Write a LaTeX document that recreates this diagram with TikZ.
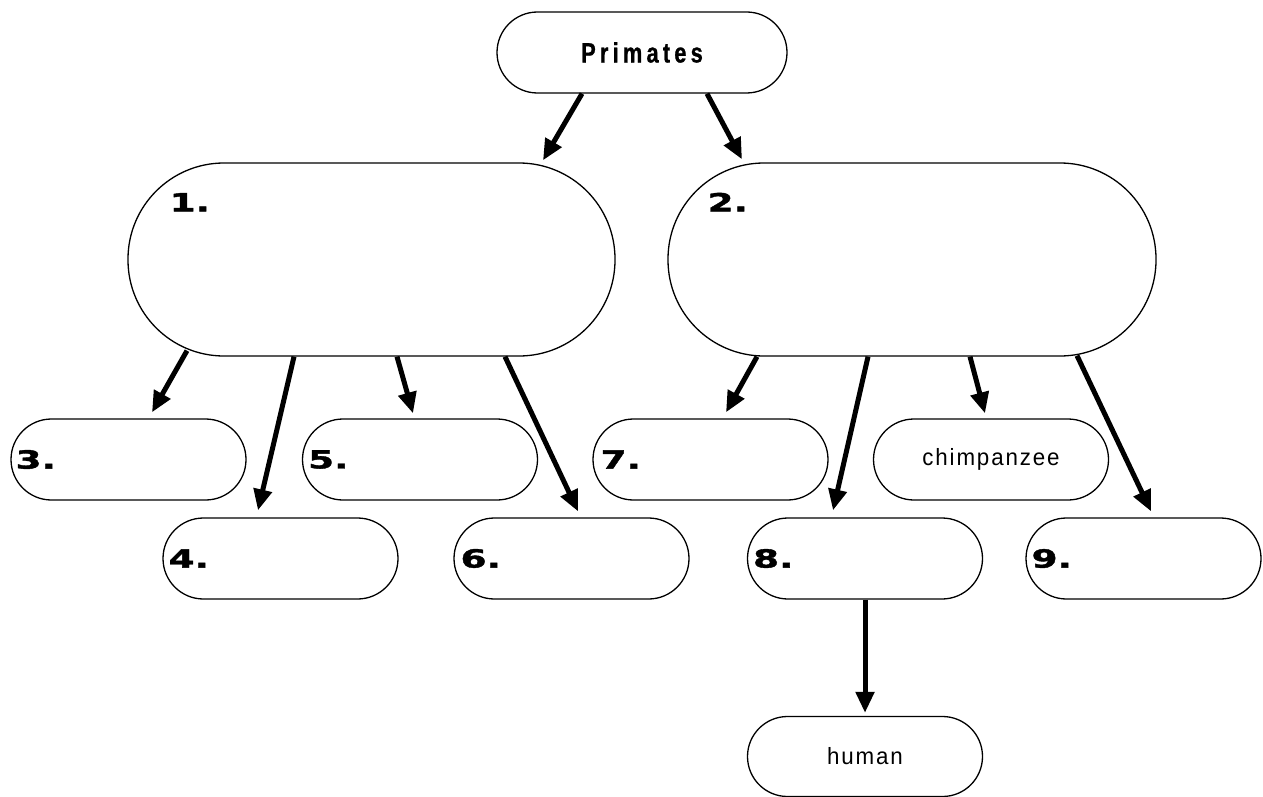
\documentclass[tikz,border=0pt]{standalone}
\usepackage{fontspec}
\setmainfont{Liberation Sans}
\newfontfamily\numfont{DejaVu Sans}[FakeStretch=1.5,FakeBold=1.5]
\newfontfamily\primfont{Liberation Sans}[FakeStretch=0.78,LetterSpace=15,FakeBold=0.8]
\newfontfamily\namefont{Liberation Sans}[LetterSpace=8,FakeStretch=0.95]
\usetikzlibrary{arrows.meta}
\tikzset{
  box/.style={draw, line width=1.3pt, rounded corners=40.5pt, minimum width=235pt, minimum height=81pt, inner sep=0pt},
  bigbox/.style={draw, line width=1.3pt, rounded corners=96pt, minimum width=487pt, minimum height=193pt, inner sep=0pt},
  num/.style={font=\numfont\bfseries\fontsize{25}{28}\selectfont, inner sep=0pt},
  animal/.style={font=\namefont\fontsize{23.5}{26}\selectfont},
  arr/.style={line width=5pt, -{Triangle[length=21pt,width=18pt]}}
}
\begin{document}
\begin{tikzpicture}[x=1pt,y=-1pt]
\useasboundingbox (0,0) rectangle (1263,797);
% boxes
\node[box, minimum width=290pt, font=\primfont\bfseries\fontsize{28}{30}\selectfont] (prim) at (642,52.5) {Primates};
\node[bigbox] (b1) at (371.5,259.5) {};
\node[bigbox, minimum width=488pt] (b2) at (912,259.5) {};
\node[box] (c3) at (128.5,459.5) {};
\node[box] (c4) at (280.5,558.5) {};
\node[box] (c5) at (420,459.5) {};
\node[box] (c6) at (571.5,558.5) {};
\node[box] (c7) at (710.5,459.5) {};
\node[box, animal] (chimp) at (991,459.5) {chimpanzee};
\node[box] (c8) at (865,558.5) {};
\node[box] (c9) at (1143.5,558.5) {};
\node[box, minimum height=80pt, rounded corners=40pt, animal] (human) at (865,756.5) {human};
% labels
\node[num, anchor=base west] (l1) at ([xshift=42pt,yshift=-49pt]b1.north west) {1.};
\node[num, anchor=base west] (l2) at ([xshift=40pt,yshift=-49pt]b2.north west) {2.};
\node[num, anchor=west] (l3) at ([xshift=5pt]c3.west) {3.};
\node[num, anchor=west] (l4) at ([xshift=6pt]c4.west) {4.};
\node[num, anchor=west] (l5) at ([xshift=6pt]c5.west) {5.};
\node[num, anchor=west] (l6) at ([xshift=7pt]c6.west) {6.};
\node[num, anchor=west] (l7) at ([xshift=8pt]c7.west) {7.};
\node[num, anchor=west] (l8) at ([xshift=6pt]c8.west) {8.};
\node[num, anchor=west] (l9) at ([xshift=6pt]c9.west) {9.};
% arrows
\draw[arr] ([xshift=-60pt]prim.south) -- ([xshift=171.5pt,yshift=2pt]b1.north);
\draw[arr] ([xshift=65pt]prim.south) -- ([xshift=-170pt,yshift=3pt]b2.north);
\draw[arr] ([xshift=-184.5pt,yshift=6pt]b1.south) -- ([xshift=23.5pt,yshift=6pt]c3.north);
\draw[arr] ([xshift=-77.5pt]b1.south) -- ([xshift=-22.5pt,yshift=7pt]c4.north);
\draw[arr] ([xshift=25.5pt]b1.south) -- ([xshift=-7pt,yshift=5pt]c5.north);
\draw[arr] ([xshift=133.5pt]b1.south) -- ([xshift=6.5pt,yshift=6pt]c6.north);
\draw[arr] ([xshift=-155pt]b2.south) -- ([xshift=15.5pt,yshift=6pt]c7.north);
\draw[arr] ([xshift=-44pt]b2.south) -- ([xshift=-32pt,yshift=7pt]c8.north);
\draw[arr] ([xshift=58pt]b2.south) -- ([xshift=-6pt,yshift=5pt]chimp.north);
\draw[arr] ([xshift=165pt,yshift=1pt]b2.south) -- ([xshift=7.5pt,yshift=6pt]c9.north);
\draw[arr] (c8.south) -- ([yshift=3pt]human.north);
\end{tikzpicture}
\end{document}
